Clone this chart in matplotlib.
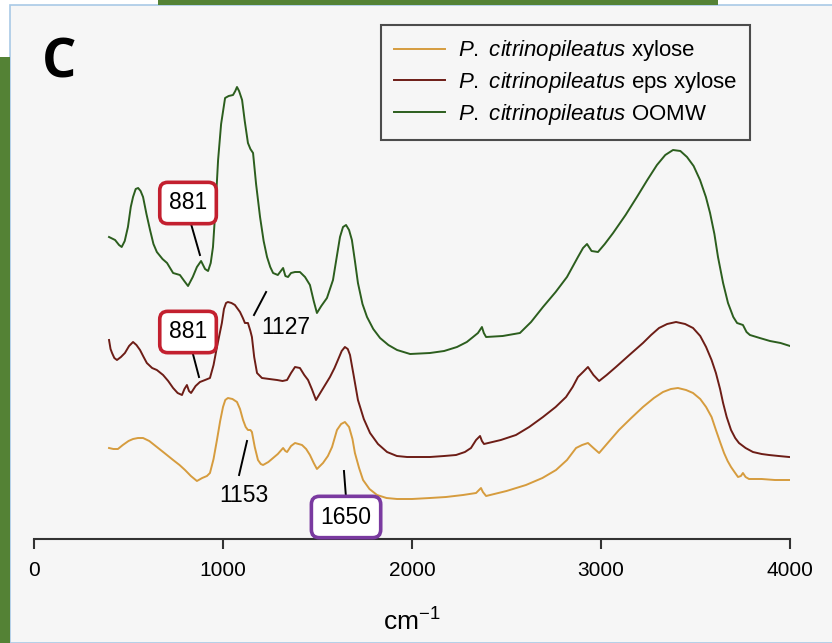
import matplotlib
matplotlib.use("Agg")
import matplotlib.pyplot as plt
from matplotlib.patches import Rectangle

plt.rcParams['font.family'] = ['Liberation Sans', 'DejaVu Sans']
plt.rcParams['mathtext.fontset'] = 'custom'
plt.rcParams['mathtext.rm'] = 'Liberation Sans'
plt.rcParams['mathtext.it'] = 'Liberation Sans:italic'

# wavenumber (cm-1) and stacked absorbance (a.u.)
wn_oomw = [397, 429, 450, 464, 480, 497, 512, 524, 538, 551, 564, 577, 595, 614, 632, 650,
           680, 704, 736, 772, 795, 815, 840, 862, 884, 905, 921, 935, 947, 960, 974, 990,
           1011, 1030, 1053, 1065, 1074, 1085, 1101, 1115, 1132, 1145, 1159, 1175, 1196,
           1215, 1233, 1250, 1265, 1290, 1318, 1330, 1344, 1360, 1381, 1407, 1434, 1460,
           1480, 1497, 1520, 1550, 1582, 1600, 1619, 1635, 1651, 1667, 1682, 1698, 1714,
           1738, 1762, 1795, 1831, 1875, 1921, 1990, 2095, 2170, 2238, 2290, 2323, 2349,
           2370, 2380, 2392, 2480, 2571, 2630, 2693, 2760, 2820, 2878, 2905, 2926, 2950,
           2984, 3020, 3064, 3130, 3190, 3245, 3296, 3340, 3381, 3420, 3455, 3490, 3524,
           3555, 3577, 3600, 3619, 3646, 3672, 3700, 3720, 3751, 3770, 3788, 3840, 3894,
           3950, 4000]
a_oomw = [3.02, 2.99, 2.94, 2.92, 2.98, 3.12, 3.32, 3.42, 3.50, 3.51, 3.48, 3.42, 3.25, 3.09,
          2.95, 2.87, 2.80, 2.76, 2.66, 2.64, 2.58, 2.53, 2.62, 2.72, 2.78, 2.70, 2.68, 2.76,
          2.92, 3.30, 3.79, 4.15, 4.41, 4.43, 4.44, 4.48, 4.52, 4.48, 4.39, 4.18, 3.96, 3.90,
          3.86, 3.55, 3.22, 2.98, 2.82, 2.72, 2.66, 2.64, 2.71, 2.63, 2.62, 2.66, 2.67, 2.67,
          2.62, 2.54, 2.38, 2.26, 2.33, 2.41, 2.59, 2.80, 3.02, 3.12, 3.14, 3.09, 2.99, 2.78,
          2.56, 2.35, 2.22, 2.10, 2.01, 1.94, 1.89, 1.85, 1.86, 1.88, 1.92, 1.97, 2.02, 2.06,
          2.12, 2.06, 2.02, 2.03, 2.06, 2.17, 2.32, 2.47, 2.62, 2.82, 2.91, 2.95, 2.88, 2.87,
          2.95, 3.06, 3.24, 3.42, 3.59, 3.74, 3.84, 3.89, 3.88, 3.82, 3.73, 3.59, 3.42, 3.26,
          3.05, 2.82, 2.56, 2.36, 2.22, 2.16, 2.14, 2.07, 2.04, 2.01, 1.98, 1.96, 1.93]

wn_eps = [397, 405, 413, 425, 439, 460, 481, 503, 524, 542, 561, 580, 597, 625, 650, 683,
          710, 736, 760, 783, 796, 809, 820, 831, 855, 878, 905, 931, 950, 968, 994, 1005,
          1016, 1026, 1045, 1063, 1090, 1105, 1116, 1132, 1145, 1153, 1165, 1180, 1206, 1245,
          1286, 1315, 1339, 1360, 1381, 1407, 1430, 1450, 1470, 1492, 1508, 1524, 1566, 1590,
          1608, 1628, 1645, 1660, 1672, 1690, 1714, 1745, 1778, 1820, 1868, 1920, 1974, 2095,
          2170, 2233, 2280, 2312, 2339, 2360, 2370, 2381, 2470, 2550, 2620, 2693, 2760, 2815,
          2850, 2878, 2905, 2931, 2960, 2990, 3030, 3079, 3150, 3222, 3265, 3307, 3350, 3397,
          3445, 3487, 3525, 3556, 3585, 3608, 3630, 3646, 3665, 3688, 3710, 3730, 3765, 3804,
          3850, 3889, 3940, 3995]
a_eps = [1.99, 1.90, 1.86, 1.81, 1.79, 1.82, 1.86, 1.93, 1.97, 1.94, 1.89, 1.82, 1.76, 1.71,
         1.69, 1.64, 1.58, 1.51, 1.46, 1.44, 1.50, 1.54, 1.48, 1.46, 1.53, 1.57, 1.59, 1.61,
         1.74, 1.92, 2.16, 2.30, 2.36, 2.37, 2.36, 2.34, 2.27, 2.21, 2.16, 2.16, 2.08, 2.02,
         1.82, 1.66, 1.61, 1.60, 1.59, 1.58, 1.59, 1.66, 1.72, 1.71, 1.64, 1.59, 1.50, 1.39,
         1.44, 1.49, 1.62, 1.71, 1.79, 1.88, 1.92, 1.90, 1.84, 1.65, 1.39, 1.20, 1.06, 0.95,
         0.87, 0.83, 0.82, 0.82, 0.83, 0.84, 0.87, 0.91, 0.99, 1.03, 0.98, 0.95, 0.99, 1.04,
         1.12, 1.22, 1.32, 1.42, 1.52, 1.62, 1.67, 1.72, 1.64, 1.58, 1.64, 1.72, 1.84, 1.96,
         2.04, 2.11, 2.15, 2.17, 2.15, 2.11, 2.03, 1.92, 1.79, 1.66, 1.50, 1.36, 1.22, 1.09,
         1.01, 0.96, 0.91, 0.87, 0.85, 0.84, 0.83, 0.82]

wn_xyl = [397, 420, 444, 470, 500, 524, 550, 577, 610, 650, 690, 736, 770, 799, 830, 862,
          890, 915, 931, 950, 968, 985, 1000, 1012, 1026, 1050, 1074, 1090, 1106, 1120, 1132,
          1145, 1153, 1168, 1185, 1200, 1212, 1240, 1265, 1290, 1318, 1330, 1339, 1360, 1381,
          1400, 1418, 1440, 1460, 1480, 1497, 1529, 1555, 1577, 1603, 1625, 1645, 1667, 1685,
          1698, 1720, 1741, 1775, 1815, 1865, 1921, 2000, 2095, 2180, 2270, 2339, 2365, 2375,
          2392, 2500, 2603, 2690, 2762, 2820, 2868, 2900, 2931, 2960, 2990, 3040, 3095, 3160,
          3222, 3280, 3328, 3370, 3407, 3450, 3487, 3525, 3556, 3585, 3608, 3630, 3651, 3670,
          3688, 3710, 3725, 3740, 3751, 3765, 3783, 3850, 3920, 3995]
a_xyl = [0.91, 0.90, 0.90, 0.94, 0.98, 1.00, 1.01, 1.01, 0.98, 0.92, 0.86, 0.79, 0.74, 0.69,
         0.63, 0.58, 0.61, 0.63, 0.66, 0.80, 0.99, 1.18, 1.32, 1.39, 1.41, 1.40, 1.37, 1.30,
         1.19, 1.12, 1.09, 1.09, 1.07, 0.92, 0.79, 0.75, 0.74, 0.77, 0.81, 0.85, 0.91, 0.88,
         0.87, 0.93, 0.96, 0.95, 0.94, 0.90, 0.84, 0.76, 0.70, 0.76, 0.83, 0.92, 1.09, 1.15,
         1.17, 1.12, 1.00, 0.86, 0.71, 0.59, 0.50, 0.44, 0.41, 0.40, 0.40, 0.41, 0.42, 0.44,
         0.46, 0.51, 0.47, 0.43, 0.48, 0.54, 0.61, 0.69, 0.79, 0.91, 0.94, 0.96, 0.91, 0.86,
         0.97, 1.09, 1.21, 1.32, 1.41, 1.47, 1.50, 1.51, 1.49, 1.46, 1.40, 1.32, 1.22, 1.09,
         0.97, 0.86, 0.78, 0.72, 0.66, 0.62, 0.63, 0.66, 0.62, 0.60, 0.60, 0.59, 0.59]

labels = [r'$\mathit{P.\ citrinopileatus}$ xylose',
          r'$\mathit{P.\ citrinopileatus}$ eps xylose',
          r'$\mathit{P.\ citrinopileatus}$ OOMW']
colors = ['#d69c3e', '#6d1d16', '#2c5e1e']

# band labels: text, text position, leader line (start, end), box colour
bands = [
    ('881', (815, 3.36), (831, 3.15), (878, 2.84), '#c3202f'),
    ('881', (815, 2.07), (841, 1.85), (873, 1.62), '#c3202f'),
    ('1127', (1333, 2.12), (1228, 2.47), (1164, 2.24), None),
    ('1153', (1111, 0.44), (1127, 0.98), (1085, 0.64), None),
    ('1650', (1651, 0.22), (1640, 0.68), (1651, 0.41), '#7a3aa0'),
]

fig = plt.figure(figsize=(8.32, 6.43), dpi=100, facecolor='white')
W, H = 832, 643

# screenshot frame around the panel
fig.patches.append(Rectangle((10 / W, 0), 1, 1 - 5 / H, transform=fig.transFigure,
                             facecolor='#f6f6f6', edgecolor='#a9c9e6', lw=1.2, zorder=-3))
fig.patches.append(Rectangle((0, 0), 10 / W, 1 - 57 / H, transform=fig.transFigure,
                             facecolor='#548235', edgecolor='none', zorder=-2))
fig.patches.append(Rectangle((158 / W, 1 - 5 / H), 560 / W, 5 / H, transform=fig.transFigure,
                             facecolor='#548235', edgecolor='none', zorder=-2))

ax = fig.add_axes([34 / W, 104 / H, 756 / W, 539 / H])
ax.set_facecolor('none')

ax.plot(wn_xyl, a_xyl, color=colors[0], lw=1.4, label=labels[0])
ax.plot(wn_eps, a_eps, color=colors[1], lw=1.4, label=labels[1])
ax.plot(wn_oomw, a_oomw, color=colors[2], lw=1.4, label=labels[2])

for txt, pos, p1, p2, box in bands:
    ax.plot([p1[0], p2[0]], [p1[1], p2[1]], color='black', lw=1.4)
    kw = {}
    if box:
        kw['bbox'] = dict(boxstyle='round,pad=0.4,rounding_size=0.35', facecolor='white',
                          edgecolor=box, lw=2.6)
    ax.text(pos[0], pos[1], txt, fontsize=16.5, ha='center', va='center', **kw)

ax.set_xlim(0, 4000)
ax.set_ylim(0, 5.39)
ax.set_xticks([0, 1000, 2000, 3000, 4000])
ax.set_yticks([])
for s in ['left', 'right', 'top']:
    ax.spines[s].set_visible(False)
ax.spines['bottom'].set_linewidth(1.5)
ax.spines['bottom'].set_color('#333333')
ax.tick_params(axis='x', direction='out', length=7, width=1.5, color='#333333',
               labelsize=15, pad=9)
ax.set_xlabel(r'cm$^{-1}$', fontsize=19, labelpad=20)

leg = ax.legend(loc='upper left', bbox_to_anchor=(381 / W, 1 - 25 / H),
                bbox_transform=fig.transFigure, borderaxespad=0, fontsize=16,
                frameon=True, fancybox=False, handlelength=2.3, handletextpad=0.55,
                labelspacing=0.3, borderpad=0.6)
leg.get_frame().set_edgecolor('#222222')
leg.get_frame().set_linewidth(1.5)
leg.get_frame().set_facecolor('#f6f6f6')

fig.text(42 / W, 1 - 63 / H, 'C', fontsize=39, fontweight='bold', family='Open Sans',
         va='center', ha='left')

fig.savefig('out.png', dpi=100, facecolor=fig.get_facecolor())
